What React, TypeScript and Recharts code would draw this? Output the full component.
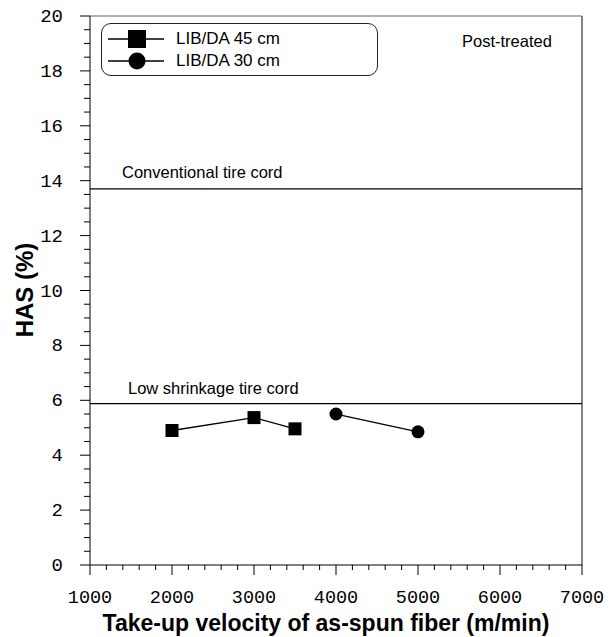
import React from 'react';
import { LineChart, Line, XAxis, YAxis, ReferenceLine, ReferenceDot } from 'recharts';

const xTicks = [1000, 1200, 1400, 1600, 1800, 2000, 2200, 2400, 2600, 2800, 3000, 3200, 3400, 3600, 3800, 4000, 4200, 4400, 4600, 4800, 5000, 5200, 5400, 5600, 5800, 6000, 6200, 6400, 6600, 6800, 7000];
const xMajor = [1000, 2000, 3000, 4000, 5000, 6000, 7000];
const yTicks = [0, 0.5, 1, 1.5, 2, 2.5, 3, 3.5, 4, 4.5, 5, 5.5, 6, 6.5, 7, 7.5, 8, 8.5, 9, 9.5, 10, 10.5, 11, 11.5, 12, 12.5, 13, 13.5, 14, 14.5, 15, 15.5, 16, 16.5, 17, 17.5, 18, 18.5, 19, 19.5, 20];
const yMajor = [0, 2, 4, 6, 8, 10, 12, 14, 16, 18, 20];

const series45 = [
  { x: 2000, y: 4.9 },
  { x: 3000, y: 5.37 },
  { x: 3500, y: 4.96 },
];
const series30 = [
  { x: 4000, y: 5.5 },
  { x: 5000, y: 4.85 },
];
const seriesNames = ['LIB/DA 45 cm', 'LIB/DA 30 cm'];
const refLines = [
  { y: 13.7, label: 'Conventional tire cord', dx: 32, dy: -11 },
  { y: 5.88, label: 'Low shrinkage tire cord', dx: 38, dy: -10 },
];
const note = { x: 6085, y: 19.1, text: 'Post-treated' };
const xTitle = 'Take-up velocity of as-spun fiber (m/min)';
const yTitle = 'HAS (%)';

const SquareDot = (props: any) => {
  const { cx, cy } = props;
  if (cx == null || cy == null) return null;
  return <rect x={cx - 6.5} y={cy - 6.5} width={13} height={13} fill="#000" />;
};
const CircleDot = (props: any) => {
  const { cx, cy } = props;
  if (cx == null || cy == null) return null;
  return <circle cx={cx} cy={cy} r={6.5} fill="#000" />;
};

const XTick = (props: any) => {
  const { x, y, payload } = props;
  const major = xMajor.includes(payload.value);
  return (
    <g>
      <line x1={x} y1={y} x2={x} y2={y + (major ? 10 : 5)} stroke="#000" strokeWidth={1} />
      {major && (
        <text x={x} y={y + 38} textAnchor="middle" fontFamily="Liberation Mono" fontSize={18.5} fill="#000">
          {payload.value}
        </text>
      )}
    </g>
  );
};

const YTick = (props: any) => {
  const { x, y, payload } = props;
  const major = yMajor.includes(payload.value);
  return (
    <g>
      <line x1={x} y1={y} x2={x - (major ? 10 : 6)} y2={y} stroke="#000" strokeWidth={1} />
      {major && (
        <text x={x - 27} y={y + 6} textAnchor="end" fontFamily="Liberation Mono" fontSize={19} fill="#000">
          {payload.value}
        </text>
      )}
    </g>
  );
};

const LegendBox = () => (
  <div
    style={{
      position: 'absolute',
      left: 101,
      top: 23,
      width: 277,
      height: 53,
      border: '1px solid #222',
      borderRadius: 10,
      boxSizing: 'border-box',
      background: '#fff',
    }}
  >
    {seriesNames.map((name, i) => (
      <div key={name} style={{ position: 'absolute', left: 0, top: 4 + i * 22, height: 22, width: 277 }}>
        <svg width={70} height={22} style={{ position: 'absolute', left: 5, top: 0 }}>
          <line x1={1} y1={11} x2={57} y2={11} stroke="#000" strokeWidth={1.3} />
          {i === 0 ? <rect x={21} y={2} width={18} height={18} fill="#000" /> : <circle cx={30} cy={11} r={8.5} fill="#000" />}
        </svg>
        <span
          style={{
            position: 'absolute',
            left: 74,
            top: 1,
            fontFamily: 'Liberation Sans, Arial',
            fontSize: 17,
            lineHeight: '20px',
            color: '#000',
            whiteSpace: 'nowrap',
          }}
        >
          {name}
        </span>
      </div>
    ))}
  </div>
);

export default function App() {
  return (
    <div style={{ position: 'absolute', left: 0, top: 0, width: 610, height: 637, background: '#fff' }}>
      <LineChart width={610} height={637} margin={{ top: 16, right: 28, left: 10, bottom: 12 }}>
        <XAxis
          dataKey="x"
          type="number"
          domain={[1000, 7000]}
          ticks={xTicks}
          interval={0}
          tickLine={false}
          tickSize={0}
          tickMargin={0}
          tick={<XTick />}
          axisLine={{ stroke: '#000', strokeWidth: 1 }}
          height={60}
          allowDataOverflow
          label={(p: any) => (
            <text x={326} y={631} textAnchor="middle" fontFamily="Liberation Sans, Arial" fontWeight="bold" fontSize={23} fill="#000">
              {xTitle}
            </text>
          )}
        />
        <YAxis
          type="number"
          domain={[0, 20]}
          ticks={yTicks}
          interval={0}
          tickLine={false}
          tickSize={0}
          tickMargin={0}
          tick={<YTick />}
          axisLine={{ stroke: '#000', strokeWidth: 1 }}
          width={80}
          allowDataOverflow
          label={(p: any) => (
            <text
              x={33}
              y={290}
              transform="rotate(-90 33 290)"
              textAnchor="middle"
              fontFamily="Liberation Sans, Arial"
              fontWeight="bold"
              fontSize={24}
              fill="#000"
            >
              {yTitle}
            </text>
          )}
        />
        <ReferenceLine y={20} stroke="#666" strokeWidth={1} />
        <ReferenceLine x={7000} stroke="#333" strokeWidth={1.2} />
        {refLines.map((r) => (
          <ReferenceLine
            key={r.label}
            y={r.y}
            stroke="#000"
            strokeWidth={1.3}
            label={(p: any) => {
              const vb = p.viewBox || {};
              return (
                <text x={vb.x + r.dx} y={vb.y + r.dy} fontFamily="Liberation Sans, Arial" fontSize={16.5} fill="#000">
                  {r.label}
                </text>
              );
            }}
          />
        ))}
        <ReferenceDot
          x={note.x}
          y={note.y}
          r={0}
          stroke="none"
          fill="none"
          label={{ value: note.text, position: 'center', style: { fontFamily: 'Liberation Sans, Arial', fontSize: 16.5, fill: '#000' } }}
        />
        <Line
          data={series45}
          dataKey="y"
          name={seriesNames[0]}
          stroke="#000"
          strokeWidth={1.3}
          dot={<SquareDot />}
          activeDot={false}
          isAnimationActive={false}
        />
        <Line
          data={series30}
          dataKey="y"
          name={seriesNames[1]}
          stroke="#000"
          strokeWidth={1.3}
          dot={<CircleDot />}
          activeDot={false}
          isAnimationActive={false}
        />
      </LineChart>
      <LegendBox />
    </div>
  );
}
